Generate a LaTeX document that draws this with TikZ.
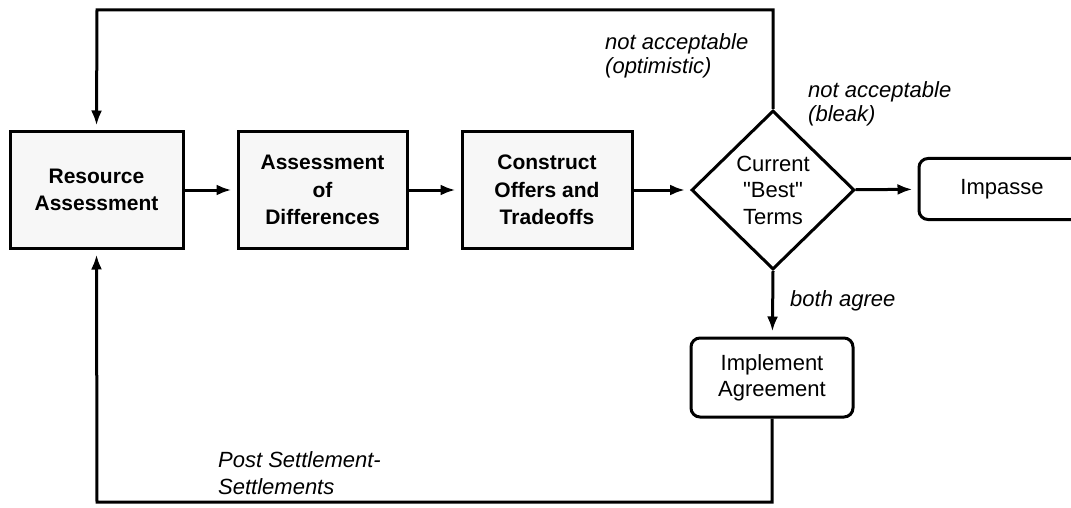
\documentclass[tikz,border=0pt]{standalone}
\usepackage{fontspec}
\setmainfont{Liberation Sans}
\usetikzlibrary{shapes.geometric,arrows.meta}
\begin{document}
\begin{tikzpicture}[x=1pt,y=-1pt,
  arr/.style={line width=3pt,-{Latex[length=15pt,width=11pt]},shorten >=5pt},
  gbox/.style={draw,line width=3pt,fill=black!3,minimum height=116pt,inner sep=0pt,align=center,font=\bfseries\fontsize{21}{27.5}\selectfont},
  rbox/.style={draw,line width=3pt,rounded corners=9pt,inner sep=0pt,align=center,font=\fontsize{22}{26}\selectfont},
  lbl/.style={inner sep=0pt,anchor=north west,align=left,font=\itshape\fontsize{22}{24}\selectfont}]
\useasboundingbox (0,0) rectangle (1071,508);
\clip (0,0) rectangle (1071,508);
\node[gbox,minimum width=173pt] (res) at (96.5,190) {Resource\\Assessment};
\node[gbox,minimum width=169pt] (ass) at (322.5,190) {Assessment\\of\\Differences};
\node[gbox,minimum width=170pt] (con) at (547,190) {Construct\\Offers and\\Tradeoffs};
\node[draw,diamond,aspect=1,line width=3pt,minimum width=163pt,minimum height=159pt,inner sep=0pt,align=center,font=\fontsize{22}{26.5}\selectfont] (dia) at (773,190) {Current\\\textquotedbl Best\textquotedbl\\Terms};
\node[rbox,minimum width=166pt,minimum height=61pt] (imp) at (1002,189) {Impasse};
\node[rbox,minimum width=162pt,minimum height=79pt] (agr) at (772,377.5) {Implement\\Agreement};
\coordinate (tr) at (773,10);
\coordinate (tl) at (97,10);
\coordinate (br) at (772,502);
\coordinate (bl) at (97,502);
\draw[arr] (res) -- (ass);
\draw[arr] (ass) -- (con);
\draw[arr] (con) -- (dia);
\draw[arr] (dia) -- (imp);
\draw[arr] (dia.south) -- (agr);
\draw[arr] (dia.north) -- (tr) -- (tl) -- (res.north);
\draw[arr] (agr.south) -- (br) -- (bl) -- (res.south);
\node[lbl] (l1) at (605,33) {not acceptable\\(optimistic)};
\node[lbl] (l2) at (808,81) {not acceptable\\(bleak)};
\node[lbl] (l3) at (790,290) {both agree};
\node[lbl,font=\itshape\fontsize{22}{27}\selectfont] (l4) at (218,451) {Post Settlement-\\Settlements};
\end{tikzpicture}
\end{document}
